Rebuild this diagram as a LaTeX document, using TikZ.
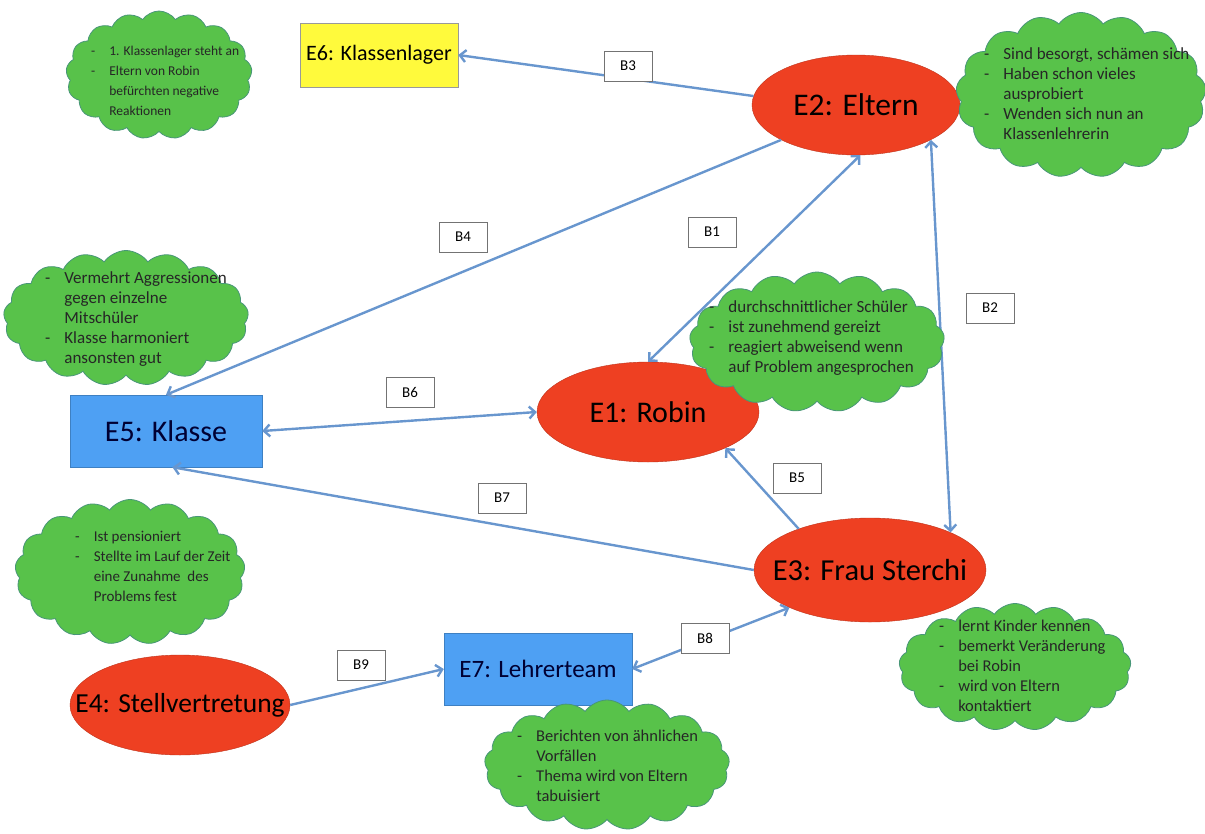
\documentclass[tikz,border=0pt]{standalone}
\usepackage{fontspec}
\setmainfont{Carlito}
\usetikzlibrary{shapes.geometric,shapes.symbols,arrows.meta}
\definecolor{entred}{RGB}{238,64,34}
\definecolor{entblue}{RGB}{78,160,243}
\definecolor{entyellow}{RGB}{255,250,60}
\definecolor{cloudgreen}{RGB}{88,194,74}
\definecolor{cloudedge}{RGB}{72,150,120}
\definecolor{linkblue}{RGB}{104,150,206}
\tikzset{
    person/.style={
        ellipse,draw=entred!80!black,thin,fill=entred,
        inner xsep=-50pt,inner ysep=-10pt,
        font=\fontsize{30}{34}\selectfont
    },
    group/.style={
        rectangle,draw=entblue!80!black,thin,fill=entblue,
        inner sep=0pt,text=black!80!blue,
        font=\fontsize{30}{34}\selectfont
    },
    notecloud/.style={
        cloud,cloud puffs=17,cloud puff arc=110,cloud ignores aspect,
        draw=cloudedge,thick,fill=cloudgreen,inner sep=0pt
    },
    notes/.style={
        anchor=west,inner sep=0pt,text=black!85,
        font=\fontsize{16.5}{20}\selectfont
    },
    tag/.style={
        draw=black!55,fill=white,thick,
        minimum width=48pt,minimum height=30pt,inner sep=0pt,
        font=\fontsize{15}{18}\selectfont
    },
    link/.style={draw=linkblue,line width=2.4pt},
    >={Straight Barb[length=6pt,width=12pt]}
}
\newcommand{\itemlist}[1]{\begin{tabular}{@{}l@{\hspace{14pt}}l@{}}#1\end{tabular}}

\begin{document}
\begin{tikzpicture}[x=1pt,y=-1pt]
\useasboundingbox (0,0) rectangle (1205,833);
% entities
\node[person,minimum width=222pt,minimum height=100pt] (e1) at (648,412) {E1: Robin};
\node[person,minimum width=208pt,minimum height=100pt,font=\fontsize{31.5}{35}\selectfont] (e2) at (856,105) {E2: Eltern};
\node[person,minimum width=232pt,minimum height=104pt,font=\fontsize{30.5}{35}\selectfont] (e3) at (870,570) {E3: Frau Sterchi};
\node[person,minimum width=220pt,minimum height=100pt,font=\fontsize{27.5}{31}\selectfont] (e4) at (180,705) {E4: Stellvertretung};
\node[group,minimum width=192pt,minimum height=72pt] (e5) at (166,431) {E5: Klasse};
\node[group,minimum width=158pt,minimum height=64pt,fill=entyellow,draw=black!40,text=black,font=\fontsize{22}{26}\selectfont] (e6) at (379,55) {E6: Klassenlager};
\node[group,minimum width=188pt,minimum height=72pt,font=\fontsize{25}{29}\selectfont] (e7) at (538,669) {E7: Lehrerteam};

% relations
\draw[link,->] (e2.175) -- (e6.east);
\draw[link,->] (e2.205) -- (e5.north);
\draw[link,<->] (e1.north) -- (e2.-85);
\draw[link,<->] (e2.-25) -- (e3.25);
\draw[link,<->] (e5.east) -- (e1.west);
\draw[link,->] (e3.150) -- (e1.-25);
\draw[link,->] (e3.west) -- (e5.-80);
\draw[link,<->] (e7.east) -- (e3.205);
\draw[link,->] (e4.east) -- (e7.west);

\foreach \i/\x/\y in {1/712/232,2/990/308,3/628/66,4/463/237,5/797/478,6/410/392,7/502/498,8/705/638,9/361/665}
    \node[tag] (b\i) at (\x,\y) {B\i};

% notes
\node[notecloud,minimum width=186pt,minimum height=128pt] (n6) at (159,75) {};
\node[notes,font=\fontsize{13.5}{20}\selectfont] (t6) at (91,81) {\itemlist{-&1. Klassenlager steht an\\ -&Eltern von Robin\\ &befürchten negative\\ &Reaktionen}};
\node[notecloud,minimum width=250pt,minimum height=165pt] (n2) at (1081,95) {};
\node[notes,font=\fontsize{17}{20}\selectfont] (t2) at (984,95) {\itemlist{-&Sind besorgt, schämen sich\\ -&Haben schon vieles\\ &ausprobiert\\ -&Wenden sich nun an\\ &Klassenlehrerin}};
\node[notecloud,minimum width=245pt,minimum height=135pt] (n5) at (126,318) {};
\node[notes,font=\fontsize{17}{20}\selectfont] (t5) at (45,319) {\itemlist{-&Vermehrt Aggressionen\\ &gegen einzelne\\ &Mitschüler\\ -&Klasse harmoniert\\ &ansonsten gut}};
\node[notecloud,minimum width=255pt,minimum height=140pt] (n1) at (817,342) {};
\node[notes,font=\fontsize{17}{20}\selectfont] (t1) at (709,338) {\itemlist{-&durchschnittlicher Schüler\\ -&ist zunehmend gereizt\\ -&reagiert abweisend wenn\\ &auf Problem angesprochen}};
\node[notecloud,minimum width=230pt,minimum height=145pt] (n4) at (130,572) {};
\node[notes,font=\fontsize{15}{20}\selectfont] (t4) at (75,567) {\itemlist{-&Ist pensioniert\\ -&Stellte im Lauf der Zeit\\ &eine Zunahme~ des\\ &Problems fest}};
\node[notecloud,minimum width=232pt,minimum height=127pt] (n3) at (1015,667) {};
\node[notes] (t3) at (939,667) {\itemlist{-&lernt Kinder kennen\\ -&bemerkt Veränderung\\ &bei Robin\\ -&wird von Eltern\\ &kontaktiert}};
\node[notecloud,minimum width=245pt,minimum height=130pt] (n7) at (607,765) {};
\node[notes] (t7) at (517,767) {\itemlist{-&Berichten von ähnlichen\\ &Vorfällen\\ -&Thema wird von Eltern\\ &tabuisiert}};
\end{tikzpicture}
\end{document}
